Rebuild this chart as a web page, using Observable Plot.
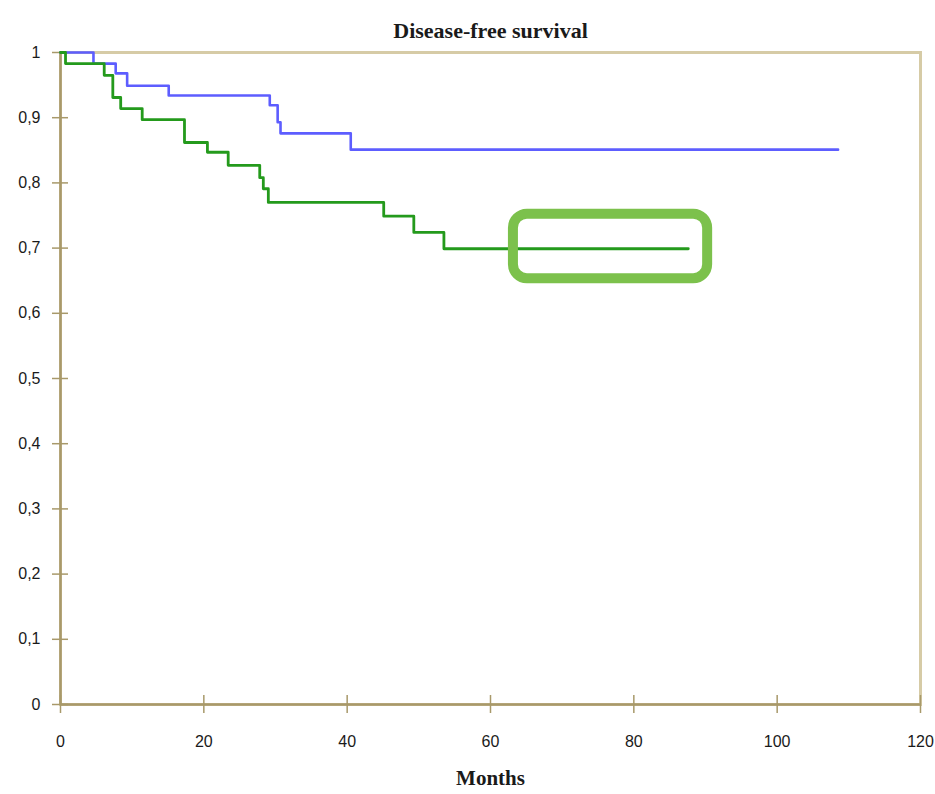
<!DOCTYPE html>
<html>
<head>
<meta charset="utf-8">
<script src="https://cdn.jsdelivr.net/npm/d3@7"></script>
<script src="https://cdn.jsdelivr.net/npm/@observablehq/plot@0.6"></script>
<style>
  html, body { margin: 0; padding: 0; background: #ffffff; }
  #chart svg { display: block; }
</style>
</head>
<body>
<div id="chart"></div>
<script>
// ---- data ----
const titleText = "Disease-free survival";
const xLabelText = "Months";

const blueMonths = [0, 4.6, 7.7, 9.3, 15.1, 29.2, 30.3, 30.7, 40.5, 108.5];
const blueSurv   = [1, 0.983, 0.968, 0.949, 0.934, 0.919, 0.893, 0.876, 0.851, 0.851];

const greenMonths = [0, 0.7, 6.1, 7.3, 8.4, 11.4, 17.3, 20.5, 23.4, 27.8, 28.3, 29.0, 45.1, 49.3, 53.5, 87.6];
const greenSurv   = [1, 0.983, 0.965, 0.931, 0.914, 0.897, 0.862, 0.847, 0.827, 0.808, 0.791, 0.770, 0.749, 0.724, 0.699, 0.699];

const xTicks = [0, 20, 40, 60, 80, 100, 120];
const yTicks = [0, 0.1, 0.2, 0.3, 0.4, 0.5, 0.6, 0.7, 0.8, 0.9, 1];
const yTickLabels = ["0", "0,1", "0,2", "0,3", "0,4", "0,5", "0,6", "0,7", "0,8", "0,9", "1"];

// highlighted region (months / survival)
const highlightMonths = [63.2, 90.3];
const highlightSurv = [0.653, 0.752];

// ---- build tables ----
const blue = blueMonths.map((m, i) => ({month: m, surv: blueSurv[i]}));
const green = greenMonths.map((m, i) => ({month: m, surv: greenSurv[i]}));
const highlight = [{x1: highlightMonths[0], x2: highlightMonths[1], y1: highlightSurv[0], y2: highlightSurv[1]}];

const frameColor = "#d6cba6";
const axisColor = "#a8996a";
const textColor = "#1a1a1a";
const yFmt = d => yTickLabels[yTicks.findIndex(t => Math.abs(t - d) < 1e-9)];

const chart = Plot.plot({
  width: 935,
  height: 794,
  marginLeft: 60,
  marginRight: 15,
  marginTop: 52,
  marginBottom: 90,
  style: {background: "#ffffff", color: textColor},
  x: {domain: [0, 120], ticks: xTicks, tickSize: 0, tickPadding: 30, label: null},
  y: {domain: [0, 1], ticks: yTicks, tickSize: 0, tickPadding: 20, label: null, tickFormat: yFmt},
  marks: [
    Plot.frame({stroke: frameColor, strokeWidth: 3}),
    Plot.ruleX([0], {stroke: axisColor, strokeWidth: 2.5}),
    Plot.ruleY([0], {stroke: axisColor, strokeWidth: 2.5}),
    Plot.ruleY(yTicks, {x1: 0, x2: 0, insetLeft: -8, insetRight: -8, stroke: axisColor, strokeWidth: 1.5}),
    Plot.ruleX(xTicks, {y1: 0, y2: 0, insetTop: -9, insetBottom: -9, stroke: axisColor, strokeWidth: 1.5}),
    Plot.axisX({ticks: xTicks, tickSize: 0, tickPadding: 31, fontSize: 16, fontFamily: "'Liberation Sans Narrow', 'Liberation Sans', sans-serif", label: null}),
    Plot.axisY({ticks: yTicks, tickSize: 0, tickPadding: 20, fontSize: 16, fontFamily: "'Liberation Sans Narrow', 'Liberation Sans', sans-serif", label: null, tickFormat: yFmt}),
    Plot.line(blue, {x: "month", y: "surv", curve: "step-after", stroke: "#5d5dff", strokeWidth: 2.6}),
    Plot.line(green, {x: "month", y: "surv", curve: "step-after", stroke: "#249a1c", strokeWidth: 2.8}),
    Plot.rect(highlight, {x1: "x1", x2: "x2", y1: "y1", y2: "y2", rx: 14, fill: "none", stroke: "#7cc14c", strokeWidth: 10}),
    Plot.text([titleText], {frameAnchor: "top", dy: -30, text: d => d, fontSize: 22, fontWeight: "bold",
      fontFamily: "'Liberation Serif', 'Times New Roman', serif", fill: textColor}),
    Plot.text([xLabelText], {frameAnchor: "bottom", dy: 80, text: d => d, fontSize: 21, fontWeight: "bold",
      fontFamily: "'Liberation Serif', 'Times New Roman', serif", fill: textColor})
  ]
});
document.getElementById("chart").appendChild(chart);
</script>
</body>
</html>
